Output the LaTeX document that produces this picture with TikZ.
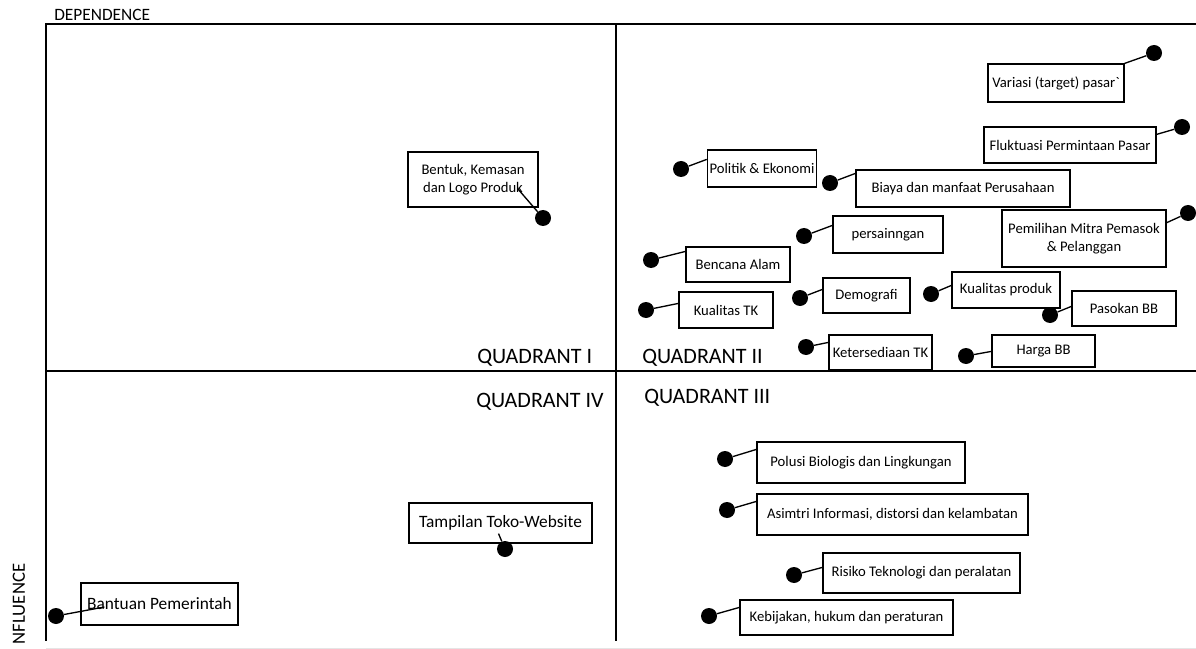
\documentclass[tikz,border=0pt]{standalone}
\usepackage{fontspec}
\setmainfont{Carlito}
\newfontfamily\rawcarlito{Carlito}
\begin{document}
\begin{tikzpicture}[x=0.75pt,y=-0.75pt,
  frame/.style={line width=1.9pt},
  bx/.style={draw, line width=0.9pt, inner sep=0pt, align=center, font=\fontsize{11}{13.5}\selectfont},
  bxl/.style={bx, font=\fontsize{13}{15}\selectfont},
  dot/.style={circle, fill=black, inner sep=0pt, minimum size=12pt},
  lead/.style={line width=1pt},
  qlab/.style={font=\fontsize{16.5}{20}\selectfont, inner sep=0pt, anchor=base west},
  axlab/.style={font=\fontsize{13}{15}\selectfont, inner sep=0pt}]
\useasboundingbox (0,0) rectangle (1196,649);
% frame
\draw[frame] (1196,24) -- (46,24) -- (46,641);
\draw[frame] (616,24) -- (616,641);
\draw[frame] (46,371) -- (1196,371);
\draw[gray!20, line width=0.75pt] (46,648) -- (1196,648);
% axis labels
\node[axlab, anchor=base west] (dep) at (54,21) {DEPENDENCE};
\node[axlab, rotate=90, font=\fontsize{14}{16}\selectfont] (inf) at (19,604) {NFLUENCE};
% quadrant labels
\node[qlab] (q1) at (477,363) {QUADRANT I};
\node[qlab] (q2) at (642,363) {QUADRANT II};
\node[qlab] (q4) at (476,407) {QUADRANT IV};
\node[qlab] (q3) at (644,403) {QUADRANT III};
% boxes
\node[bx, minimum width=102pt, minimum height=28.5pt] (b1) at (1056,83) {Variasi (target) pasar{\rawcarlito`}};
\node[bx, minimum width=129pt, minimum height=27pt] (b2) at (1070,145) {Fluktuasi Permintaan Pasar};
\node[bx, minimum width=82pt, minimum height=27.75pt] (b3) at (762,168.5) {Politik \& Ekonomi};
\node[bx, minimum width=160.5pt, minimum height=27.75pt] (b4) at (963,188.5) {Biaya dan manfaat Perusahaan};
\node[bx, minimum width=123pt, minimum height=42.75pt] (b5) at (1084,238.5) {Pemilihan Mitra Pemasok\\\& Pelanggan};
\node[bx, minimum width=82.5pt, minimum height=27.75pt] (b6) at (888,234.5) {persainngan};
\node[bx, minimum width=78pt, minimum height=26.25pt] (b7) at (738,264.5) {Bencana Alam};
\node[bx, minimum width=65.25pt, minimum height=26.25pt] (b8) at (866.5,295.5) {Demografi};
\node[bx, minimum width=81pt, minimum height=27pt] (b9) at (1006,290) {Kualitas produk};
\node[bx, minimum width=70.5pt, minimum height=27pt] (b10) at (726,310) {Kualitas TK};
\node[bx, minimum width=78pt, minimum height=26.25pt] (b11) at (1124,308.5) {Pasokan BB};
\node[bx, minimum width=77.25pt, minimum height=26.25pt] (b12) at (880.5,352.5) {Ketersediaan TK};
\node[bx, minimum width=77.25pt, minimum height=24pt] (b13) at (1043.5,351) {Harga BB};
\node[bx, minimum width=156pt, minimum height=30.75pt] (b14) at (861,462.5) {Polusi Biologis dan Lingkungan};
\node[bx, minimum width=203.25pt, minimum height=30.75pt] (b15) at (892.5,514.5) {Asimtri Informasi, distorsi dan kelambatan};
\node[bx, minimum width=147.75pt, minimum height=30pt] (b16) at (921.5,573) {Risiko Teknologi dan peralatan};
\node[bx, minimum width=159.75pt, minimum height=26.25pt] (b17) at (846.5,617.5) {Kebijakan, hukum dan peraturan};
\node[bx, minimum width=97.5pt, minimum height=41.25pt] (b18) at (473,179.5) {Bentuk, Kemasan\\dan Logo Produk};
\node[bxl, minimum width=137.25pt, minimum height=30pt] (b19) at (500.5,523) {Tampilan Toko-Website};
\node[bxl, minimum width=117.75pt, minimum height=31.5pt] (b20) at (159.5,604) {Bantuan Pemerintah};
% dots
\node[dot] (d1) at (1154,53) {};
\node[dot] (d2) at (1182,127) {};
\node[dot] (d3) at (681,169) {};
\node[dot] (d4) at (830,183) {};
\node[dot] (d5) at (1188,213) {};
\node[dot] (d6) at (804,236) {};
\node[dot] (d7) at (651,260) {};
\node[dot] (d8) at (800,298) {};
\node[dot] (d9) at (931,294) {};
\node[dot] (d10) at (646,310) {};
\node[dot] (d11) at (1050,315) {};
\node[dot] (d12) at (806,347) {};
\node[dot] (d13) at (966,356) {};
\node[dot] (d14) at (725,459) {};
\node[dot] (d15) at (727,510) {};
\node[dot] (d16) at (794,575) {};
\node[dot] (d17) at (709,616) {};
\node[dot] (d18) at (543,218) {};
\node[dot] (d19) at (505,549) {};
\node[dot] (d20) at (56,616) {};
% leaders
\draw[lead] (d1) -- (b1.north east);
\draw[lead] (d2) -- ([yshift=-6pt]b2.north east);
\draw[lead] (d3) -- ([yshift=-7.5pt]b3.north west);
\draw[lead] (d4) -- ([yshift=-3pt]b4.north west);
\draw[lead] (d5) -- ([yshift=-10pt]b5.north east);
\draw[lead] (d6) -- ([yshift=-7.5pt]b6.north west);
\draw[lead] (d7) -- ([yshift=-3.75pt]b7.north west);
\draw[lead] (d8) -- ([yshift=-9pt]b8.north west);
\draw[lead] (d9) -- ([yshift=-10.5pt]b9.north west);
\draw[lead] (d10) -- ([yshift=-9pt]b10.north west);
\draw[lead] (d11) -- ([yshift=-12pt]b11.north west);
\draw[lead] (d12) -- ([yshift=-6pt]b12.north west);
\draw[lead] (d13) -- ([yshift=-12.75pt]b13.north west);
\draw[lead] (d14) -- ([yshift=-6pt]b14.north west);
\draw[lead] (d15) -- ([yshift=-6pt]b15.north west);
\draw[lead] (d16) -- ([yshift=-11.25pt]b16.north west);
\draw[lead] (d17) -- ([yshift=-6pt]b17.north west);
\draw[lead] (d18) -- ([xshift=-15.75pt,yshift=14.25pt]b18.south east);
\draw[lead] (d19) -- ([xshift=-1.5pt,yshift=7.5pt]b19.south);
\draw[lead] (d20) -- ([xshift=18pt,yshift=-2.25pt]b20.west);
\end{tikzpicture}
\end{document}
